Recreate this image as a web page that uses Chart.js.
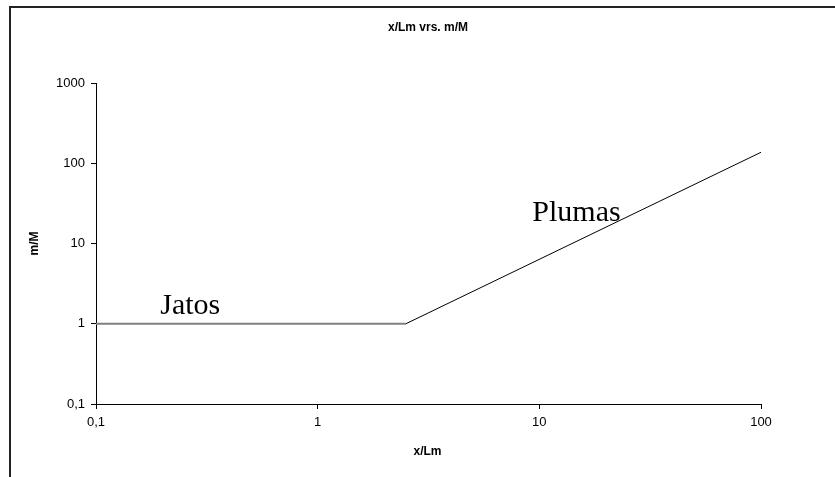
<!DOCTYPE html>
<html>
<head>
<meta charset="utf-8">
<script src="https://cdn.jsdelivr.net/npm/chart.js@4/dist/chart.umd.min.js"></script>
<style>
  html, body { margin: 0; padding: 0; background: #fff; }
  #wrap { width: 835px; height: 477px; position: relative; }
</style>
</head>
<body>
<div id="wrap"><canvas id="c" width="835" height="477"></canvas></div>
<script>
// ---- data ----
const jetX = [0.1, 2.5];
const jetY = [1, 1];
const plumeX = [2.5, 100];
const plumeY = [1, 137];
const xTicks = [0.1, 1, 10, 100];
const yTicks = [0.1, 1, 10, 100, 1000];
const titleText = 'x/Lm vrs. m/M';
const xTitle = 'x/Lm';
const yTitle = 'm/M';
const labels = [
  { text: 'Jatos', x: 0.195, y: 1.33 },
  { text: 'Plumas', x: 9.3, y: 19 }
];

const fmt = v => String(v).replace('.', ',');
const toPts = (xs, ys) => xs.map((x, i) => ({ x: x, y: ys[i] }));

const decor = {
  id: 'decor',
  afterDraw(chart) {
    const ctx = chart.ctx;
    const xs = chart.scales.x, ys = chart.scales.y;
    const ca = chart.chartArea;
    ctx.save();
    // outer frame
    ctx.strokeStyle = '#222';
    ctx.lineWidth = 2;
    ctx.beginPath();
    ctx.moveTo(10, 480);
    ctx.lineTo(10, 7);
    ctx.lineTo(840, 7);
    ctx.stroke();
    // titles
    ctx.fillStyle = '#000';
    ctx.font = 'bold 12px "Liberation Sans", Arial, sans-serif';
    ctx.textAlign = 'center';
    ctx.textBaseline = 'middle';
    ctx.fillText(titleText, 428, 28);
    ctx.fillText(xTitle, (ca.left + ca.right) / 2 - 1, 452);
    ctx.save();
    ctx.translate(35, (ca.top + ca.bottom) / 2);
    ctx.rotate(-Math.PI / 2);
    ctx.fillText(yTitle, 0, 0);
    ctx.restore();
    // annotations
    ctx.font = '30px "Liberation Serif", "Times New Roman", serif';
    ctx.textAlign = 'left';
    ctx.textBaseline = 'alphabetic';
    labels.forEach(l => {
      ctx.fillText(l.text, xs.getPixelForValue(l.x), ys.getPixelForValue(l.y));
    });
    ctx.restore();
  }
};

new Chart(document.getElementById('c'), {
  type: 'line',
  data: {
    datasets: [
      { data: toPts(jetX, jetY), borderColor: '#808080', borderWidth: 2, pointRadius: 0, fill: false, tension: 0 },
      { data: toPts(plumeX, plumeY), borderColor: '#000', borderWidth: 1, pointRadius: 0, fill: false, tension: 0 }
    ]
  },
  options: {
    responsive: false,
    animation: false,
    events: [],
    layout: { padding: { top: 83, right: 74, left: 0, bottom: 0 } },
    plugins: { legend: { display: false }, title: { display: false }, tooltip: { enabled: false } },
    scales: {
      x: {
        type: 'logarithmic', min: 0.1, max: 100,
        afterBuildTicks: s => { s.ticks = xTicks.map(v => ({ value: v })); },
        afterFit: s => { s.height = 73; },
        border: { display: true, color: '#000', width: 1 },
        grid: { display: true, drawOnChartArea: false, drawTicks: true, tickLength: 5, color: '#000' },
        ticks: { color: '#000', font: { family: '"Liberation Sans", Arial, sans-serif', size: 13 }, padding: 6, maxRotation: 0, autoSkip: false, callback: v => fmt(v) }
      },
      y: {
        type: 'logarithmic', min: 0.1, max: 1000,
        afterBuildTicks: s => { s.ticks = yTicks.map(v => ({ value: v })); },
        afterFit: s => { s.width = 96; },
        border: { display: true, color: '#000', width: 1 },
        grid: { display: true, drawOnChartArea: false, drawTicks: true, tickLength: 5, color: '#000' },
        ticks: { color: '#000', font: { family: '"Liberation Sans", Arial, sans-serif', size: 13 }, padding: 6, autoSkip: false, callback: v => fmt(v) }
      }
    }
  },
  plugins: [decor]
});
</script>
</body>
</html>
